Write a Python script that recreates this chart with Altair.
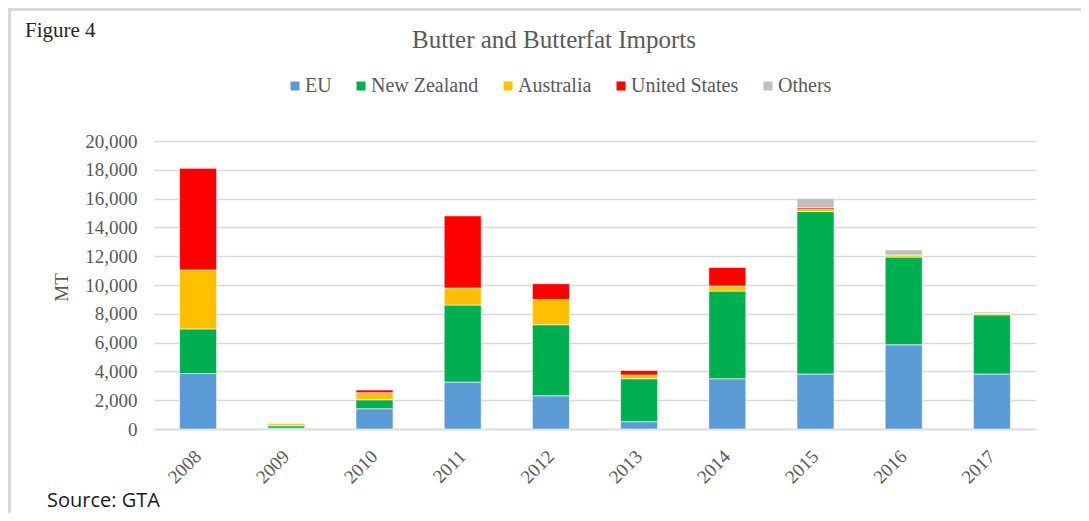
import altair as alt
import pandas as pd

years = ["2008", "2009", "2010", "2011", "2012", "2013", "2014", "2015", "2016", "2017"]
series = ["EU", "New Zealand", "Australia", "United States", "Others"]
colors = ["#5B9BD5", "#00B050", "#FFC000", "#FF0000", "#BFBFBF"]

eu = [3850, 60, 1410, 3260, 2310, 510, 3490, 3820, 5850, 3820]
nz = [3100, 170, 620, 5350, 4930, 2980, 6090, 11280, 6090, 4110]
aus = [4100, 140, 490, 1180, 1760, 260, 350, 140, 140, 90]
us = [7050, 20, 190, 5010, 1090, 320, 1290, 120, 0, 0]
others = [0, 0, 0, 0, 0, 0, 0, 640, 350, 100]

y_ticks = list(range(0, 20001, 2000))

values = [eu, nz, aus, us, others]
rows = []
for si, (name, vals) in enumerate(zip(series, values)):
    for yr, v in zip(years, vals):
        if v > 0:
            rows.append({"Year": yr, "Series": name, "Value": v, "Idx": si})
df = pd.DataFrame(rows)

W, H = 882, 288
PL, PT, PR, PB = 146, 133, 45, 84
GREY = "#595959"
SERIF = "Liberation Serif"

bars = alt.Chart(df).mark_bar(stroke="white", strokeWidth=0.6).encode(
    x=alt.X(
        "Year:N", sort=years,
        scale=alt.Scale(paddingInner=0.58, paddingOuter=0.29),
        axis=alt.Axis(
            title=None, labelAngle=315, labelAlign="right", labelBaseline="middle",
            labelPadding=24, ticks=False, domainColor="#D9D9D9", domainWidth=1.5,
            labelFont=SERIF, labelFontSize=19, labelColor=GREY, grid=False,
        ),
    ),
    y=alt.Y(
        "Value:Q", stack="zero",
        scale=alt.Scale(domain=[0, 20000], nice=False),
        axis=alt.Axis(
            values=y_ticks, format=",.0f", title="MT", ticks=False, domain=False,
            labelPadding=17, labelFont=SERIF, labelFontSize=19, labelColor=GREY,
            gridColor="#D9D9D9", gridWidth=1.5,
            titleFont=SERIF, titleFontSize=19, titleFontWeight="normal", titleColor=GREY,
            titleX=-93, titleY=146, titleAlign="center", titleBaseline="middle", titleAngle=270,
        ),
    ),
    color=alt.Color(
        "Series:N",
        scale=alt.Scale(domain=series, range=colors),
        legend=alt.Legend(
            title=None, orient="none", legendX=131, legendY=-65, direction="horizontal",
            symbolType="square", symbolSize=81, symbolStrokeWidth=0,
            labelFont=SERIF, labelFontSize=20, labelColor=GREY, labelOffset=0,
            columnPadding=19,
        ),
    ),
    order=alt.Order("Idx:Q", sort="ascending"),
)


def label(txt, x, y, size, color, font=SERIF, align="left"):
    return alt.Chart(pd.DataFrame({"t": [txt]})).mark_text(
        font=font, fontSize=size, color=color, align=align, baseline="middle"
    ).encode(text="t:N", x=alt.value(x), y=alt.value(y))


title = label("Butter and Butterfat Imports", 400, -101, 25, GREY, align="center")
fig = label("Figure 4", -129, -110, 21, "#262626")
source = label("Source: GTA", -107, 360, 20, "#1a1a1a", font="Open Sans")

frame_top = alt.Chart(pd.DataFrame({"a": [0]})).mark_rule(color="#D9D9D9", strokeWidth=3).encode(
    x=alt.value(-PL), x2=alt.value(W + PR), y=alt.value(-PT + 1.5)
)
frame_left = alt.Chart(pd.DataFrame({"a": [0]})).mark_rule(color="#D9D9D9", strokeWidth=3).encode(
    x=alt.value(-PL + 1.5), y=alt.value(-PT), y2=alt.value(H + PB)
)

chart = alt.layer(bars, title, fig, source, frame_top, frame_left).properties(
    width=W, height=H,
    autosize=alt.AutoSizeParams(type="none"),
    padding={"left": PL, "top": PT, "right": PR, "bottom": PB},
).configure_view(stroke=None)

chart.save("out.html", embed_options={"renderer": "svg", "actions": False})
